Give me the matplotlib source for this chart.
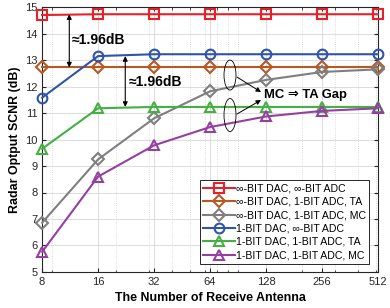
import numpy as np
import matplotlib
matplotlib.use('Agg')
import matplotlib.pyplot as plt
from matplotlib.patches import Ellipse
from matplotlib.ticker import FixedLocator, NullFormatter, LogLocator

plt.rcParams['font.family'] = ['Liberation Sans', 'DejaVu Sans']

antennas = [8, 16, 32, 64, 128, 256, 512]
inf_dac_inf_adc = [14.70, 14.73, 14.73, 14.73, 14.73, 14.73, 14.73]
inf_dac_1adc_ta = [12.72, 12.72, 12.72, 12.72, 12.72, 12.72, 12.72]
inf_dac_1adc_mc = [6.86, 9.25, 10.80, 11.82, 12.25, 12.55, 12.65]
one_dac_inf_adc = [11.58, 13.15, 13.22, 13.22, 13.22, 13.22, 13.22]
one_dac_1adc_ta = [9.65, 11.18, 11.23, 11.23, 11.23, 11.23, 11.23]
one_dac_1adc_mc = [5.76, 8.60, 9.78, 10.47, 10.87, 11.08, 11.18]

series = [
    (inf_dac_inf_adc, '∞-BIT DAC, ∞-BIT ADC', '#e8202a', 's'),
    (inf_dac_1adc_ta, '∞-BIT DAC, 1-BIT ADC, TA', '#b55a22', 'D'),
    (inf_dac_1adc_mc, '∞-BIT DAC, 1-BIT ADC, MC', '#7f7f7f', 'D'),
    (one_dac_inf_adc, '1-BIT DAC, ∞-BIT ADC', '#2f55a8', 'o'),
    (one_dac_1adc_ta, '1-BIT DAC, 1-BIT ADC, TA', '#44b044', '^'),
    (one_dac_1adc_mc, '1-BIT DAC, 1-BIT ADC, MC', '#9440a0', '^'),
]

fig = plt.figure(figsize=(3.9, 3.08), dpi=100)
ax = fig.add_axes([0.108, 0.117, 0.861, 0.860])

for y, lab, c, m in series:
    ms = 6.5 if m == 'D' else 7
    ax.plot(antennas, y, color=c, lw=1.5, marker=m, ms=ms, mew=1.5,
            mfc='none', label=lab, clip_on=False, zorder=3)

ax.set_xscale('log', base=2)
ax.set_xlim(8, 512)
ax.set_ylim(5, 15)
ax.xaxis.set_major_locator(FixedLocator(antennas))
ax.set_xticklabels([str(a) for a in antennas])
ax.xaxis.set_minor_locator(LogLocator(base=10, subs=np.arange(2, 10)))
ax.xaxis.set_minor_formatter(NullFormatter())
ax.set_yticks(range(5, 16))

ax.grid(True, which='major', color='#dcdcdc', lw=0.7)
ax.grid(True, which='minor', axis='x', color='#d0d0d0', lw=0.6, ls=':')
ax.set_axisbelow(True)
ax.tick_params(which='both', direction='in', top=True, right=True,
               colors='#262626', labelsize=8)
ax.tick_params(which='major', length=3)
ax.tick_params(which='minor', length=1.8)
for s in ax.spines.values():
    s.set_color('#262626')
    s.set_linewidth(0.8)

ax.set_xlabel('The Number of Receive Antenna', fontsize=8.9,
              fontweight='bold', labelpad=4)
ax.set_ylabel('Radar Optput SCNR (dB)', fontsize=8.9, fontweight='bold',
              labelpad=3)

# gap arrows
arr = dict(arrowstyle='<|-|>', color='black', lw=0.8,
           mutation_scale=7, shrinkA=0, shrinkB=0)
ax.annotate('', xy=(11.2, 14.73), xytext=(11.2, 12.72), arrowprops=arr)
ax.text(11.6, 13.75, '≈1.96dB', fontsize=10, fontweight='bold',
        va='center', ha='left')
ax.annotate('', xy=(22.4, 13.15), xytext=(22.4, 11.23), arrowprops=arr)
ax.text(23.3, 12.17, '≈1.96dB', fontsize=10, fontweight='bold',
        va='center', ha='left')


# MC to TA gap, placed in axes fraction
def fx(px):
    return (px - 42) / 336


def fy(py):
    return (272 - py) / 265


for yc, h in [(75, 30), (115, 33)]:
    ax.add_patch(Ellipse((fx(230), fy(yc)), width=12 / 336, height=h / 265,
                         transform=ax.transAxes, fill=False, lw=0.6,
                         ec='black', zorder=4))
harr = dict(arrowstyle='-|>', color='black', lw=0.7, mutation_scale=7,
            shrinkA=0, shrinkB=0)
ax.annotate('', xy=(fx(261), fy(92)), xytext=(fx(237), fy(77)),
            xycoords='axes fraction', arrowprops=harr)
ax.annotate('', xy=(fx(261), fy(100)), xytext=(fx(237), fy(114)),
            xycoords='axes fraction', arrowprops=harr)
ax.text(fx(264), fy(95), 'MC ⇒ TA Gap', transform=ax.transAxes,
        fontsize=9.4, fontweight='bold', va='center', ha='left', zorder=5)

leg = ax.legend(loc='lower right', fontsize=7.6, frameon=True, fancybox=False,
                edgecolor='#262626', framealpha=1, handlelength=3.0,
                handletextpad=0.15, borderpad=0.3, labelspacing=0.32,
                borderaxespad=0.8)
leg.get_frame().set_linewidth(0.7)
leg.set_zorder(6)

fig.savefig('out.png', dpi=100)
